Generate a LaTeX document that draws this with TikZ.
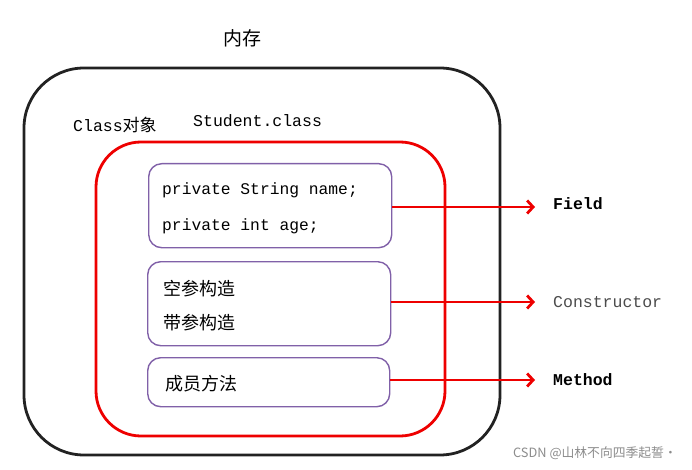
\documentclass[tikz,border=0pt]{standalone}
\usepackage{fontspec}
\setmainfont{Liberation Serif}
\newfontfamily\mono{Liberation Mono}
\newfontfamily\cjk{Noto Sans CJK SC}
\usetikzlibrary{arrows.meta}
\definecolor{boxpurple}{HTML}{8060A8}
\definecolor{outerblack}{HTML}{222222}
\definecolor{arrred}{HTML}{EE0000}
\tikzset{
  outerbox/.style={draw=outerblack, line width=2.8pt, rounded corners=60pt},
  redbox/.style={draw=arrred, line width=2.8pt, rounded corners=45pt},
  membox/.style={draw=boxpurple, line width=1.4pt, rounded corners=13pt, minimum width=243pt, anchor=north west, inner sep=0pt},
  codetext/.style={font=\mono\fontsize{16.3}{18}\selectfont, anchor=west, inner sep=0pt},
  cjktext/.style={font=\cjk\fontsize{18}{20}\selectfont, anchor=west, inner sep=0pt},
  link/.style={draw=arrred, line width=2.8pt, -{Straight Barb[length=6pt,width=13pt,line width=2.8pt]}},
  lbl/.style={font=\mono\fontsize{16.5}{18}\selectfont, anchor=west, inner sep=0pt}
}
\begin{document}
\begin{tikzpicture}[x=1pt,y=-1pt]
\useasboundingbox (0,0) rectangle (692,470);
\node[font=\cjk\fontsize{19}{20}\selectfont] (mem) at (242,38) {内存};
\draw[outerbox] (24,68) rectangle (500,455);
\node[anchor=west, inner sep=0pt] (cls) at (73,125) {{\mono\fontsize{16.5}{18}\selectfont Class}{\cjk\fontsize{17}{18}\selectfont 对象}};
\node[lbl] (stu) at (193,121) {Student.class};
\draw[redbox] (96,142) rectangle (445,436);
\node[membox, minimum height=84pt] (b1) at (148,163) {};
\node[membox, minimum height=84pt] (b2) at (147,261) {};
\node[membox, minimum height=49pt, minimum width=242pt] (b3) at (147,357) {};
\node[codetext] (t1) at (162,190) {private String name;};
\node[codetext] (t2) at (162,226) {private int age;};
\node[cjktext] (t3) at (163,289) {空参构造};
\node[cjktext] (t4) at (163,323) {带参构造};
\node[cjktext] (t5) at (165,384) {成员方法};
\coordinate (e1) at (535,207);
\coordinate (e2) at (535,302);
\coordinate (e3) at (535,380);
\draw[link] (b1.east |- e1) -- (e1);
\draw[link] (b2.east |- e2) -- (e2);
\draw[link] (b3.east |- e3) -- (e3);
\node[lbl, font=\mono\bfseries\fontsize{16.5}{18}\selectfont] (f) at (553,204) {Field};
\node[lbl, text=black!70] (c) at (553,302) {Constructor};
\node[lbl, font=\mono\bfseries\fontsize{16.5}{18}\selectfont] (m) at (553,380) {Method};
\node[anchor=east, inner sep=0pt, text=black!45, font=\cjk\fontsize{12.8}{14}\selectfont] (wm) at (677,453) {CSDN @山林不向四季起誓·};
\end{tikzpicture}
\end{document}
